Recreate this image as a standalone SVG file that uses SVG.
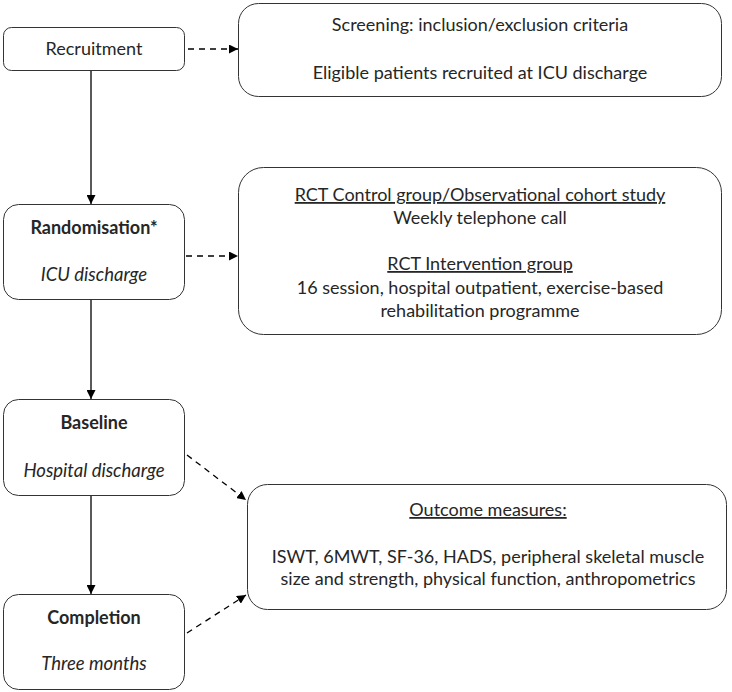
<svg xmlns="http://www.w3.org/2000/svg" width="732" height="692" viewBox="0 0 732 692">
<defs>
<style>
.box{fill:#fff;stroke:#333;stroke-width:1}
.t{font-family:Lato,"Open Sans",sans-serif;font-size:18px;fill:#262626;text-anchor:middle}
.b{font-weight:bold}
.i{font-style:italic;font-size:18.5px}
.u{text-decoration:underline}
.solid{stroke:#000;stroke-width:1.3;fill:none}
.dash{stroke:#000;stroke-width:1.3;fill:none;stroke-dasharray:6,5}
</style>
<marker id="ah" viewBox="0 0 10 10" refX="10" refY="5" markerWidth="9" markerHeight="9" markerUnits="userSpaceOnUse" orient="auto">
<path d="M0,0 L10,5 L0,10 Z" fill="#000"/>
</marker>
</defs>
<rect width="732" height="692" fill="#fff"/>
<g id="connectors">
<line class="solid" x1="91" y1="70" x2="91" y2="204" marker-end="url(#ah)"/>
<line class="solid" x1="91" y1="300" x2="91" y2="399" marker-end="url(#ah)"/>
<line class="solid" x1="91" y1="496" x2="91" y2="594" marker-end="url(#ah)"/>
<line class="dash" x1="188" y1="49" x2="238" y2="49" marker-end="url(#ah)"/>
<line class="dash" x1="186" y1="256" x2="238" y2="256" marker-end="url(#ah)"/>
<line class="dash" x1="187" y1="455" x2="246" y2="500" marker-end="url(#ah)"/>
<line class="dash" x1="187" y1="633" x2="246" y2="595" marker-end="url(#ah)"/>
</g>
<g id="recruitment">
<rect class="box" x="3.5" y="27.5" width="181" height="43" rx="8"/>
<text class="t" x="94" y="55">Recruitment</text>
</g>
<g id="screening">
<rect class="box" x="238.5" y="3.5" width="483" height="93" rx="20"/>
<text class="t" x="480" y="31">Screening: inclusion/exclusion criteria</text>
<text class="t" x="480" y="79">Eligible patients recruited at ICU discharge</text>
</g>
<g id="randomisation">
<rect class="box" x="3.5" y="204.5" width="181" height="95" rx="15"/>
<text class="t b" x="94" y="234">Randomisation*</text>
<text class="t i" x="94" y="281">ICU discharge</text>
</g>
<g id="rct">
<rect class="box" x="238.5" y="167.5" width="483" height="167" rx="25"/>
<text class="t u" x="480" y="201">RCT Control group/Observational cohort study</text>
<text class="t" x="480" y="224">Weekly telephone call</text>
<text class="t u" x="480" y="270">RCT Intervention group</text>
<text class="t" x="480" y="294">16 session, hospital outpatient, exercise-based</text>
<text class="t" x="480" y="317">rehabilitation programme</text>
</g>
<g id="baseline">
<rect class="box" x="3.5" y="399.5" width="181" height="96" rx="15"/>
<text class="t b" x="94" y="429">Baseline</text>
<text class="t i" x="94" y="477">Hospital discharge</text>
</g>
<g id="completion">
<rect class="box" x="3.5" y="594.5" width="181" height="95" rx="15"/>
<text class="t b" x="94" y="624">Completion</text>
<text class="t i" x="94" y="670">Three months</text>
</g>
<g id="outcome">
<rect class="box" x="247.5" y="484.5" width="479" height="125" rx="20"/>
<text class="t u" x="488" y="516">Outcome measures:</text>
<text class="t" x="488" y="563">ISWT, 6MWT, SF-36, HADS, peripheral skeletal muscle</text>
<text class="t" x="488" y="585">size and strength, physical function, anthropometrics</text>
</g>
</svg>
